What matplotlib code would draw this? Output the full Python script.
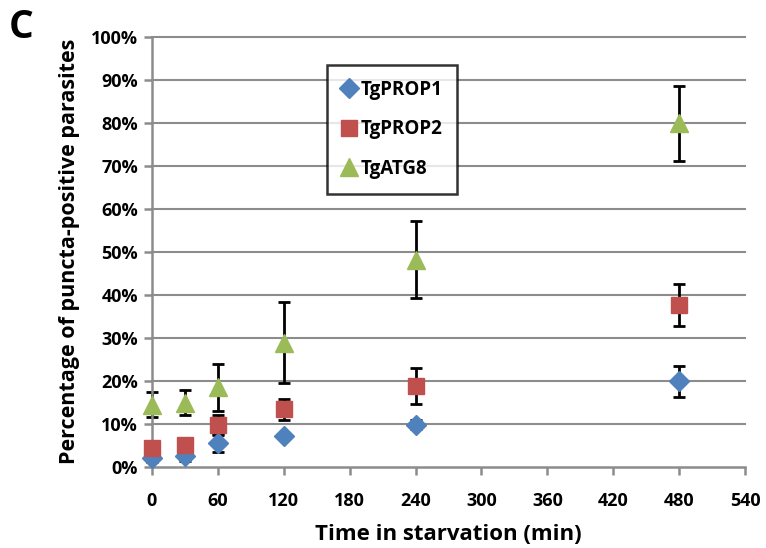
import matplotlib
matplotlib.use("Agg")
import matplotlib.pyplot as plt
from matplotlib.ticker import FuncFormatter, MultipleLocator

time_min = [0, 30, 60, 120, 240, 480]
prop1 = [2.1, 2.6, 5.5, 7.1, 9.8, 19.9]
prop1_err = [1.0, 1.3, 2.0, 0.6, 1.0, 3.6]
prop2 = [4.4, 5.1, 9.8, 13.4, 18.9, 37.6]
prop2_err = [0.8, 0.8, 2.2, 2.4, 4.2, 4.8]
atg8 = [14.4, 14.9, 18.5, 28.9, 48.2, 79.9]
atg8_err = [2.9, 2.9, 5.5, 9.5, 9.0, 8.7]
series_names = ["TgPROP1", "TgPROP2", "TgATG8"]
x_ticks = [0, 60, 120, 180, 240, 300, 360, 420, 480, 540]

plt.rcParams['font.family'] = ['Open Sans', 'DejaVu Sans']
plt.rcParams['font.weight'] = 'bold'

fig = plt.figure(figsize=(7.66, 5.48), dpi=100)
ax = fig.add_axes([0.198, 0.148, 0.775, 0.785])

grid_c = '#8c8c8c'
for v in range(10, 101, 10):
    ax.axhline(v, color=grid_c, lw=1.5, zorder=0)

styles = [
    (prop1, prop1_err, 'D', '#4F81BD', 10),
    (prop2, prop2_err, 's', '#C0504D', 12),
    (atg8, atg8_err, '^', '#9BBB59', 13),
]
handles = []
for (vals, errs, mk, col, ms), name in zip(styles, series_names):
    ax.errorbar(time_min, vals, yerr=errs, fmt='none', ecolor='black',
                elinewidth=2, capsize=4.5, capthick=2, zorder=2)
    h, = ax.plot(time_min, vals, linestyle='none', marker=mk, color=col,
                 markersize=ms, markeredgecolor=col, label=name, zorder=3)
    handles.append(h)

ax.set_xlim(0, 540)
ax.set_ylim(0, 100)
ax.set_xticks(x_ticks)
ax.yaxis.set_major_locator(MultipleLocator(10))
ax.yaxis.set_major_formatter(FuncFormatter(lambda v, p: f"{int(round(v))}%"))
for s in ['top', 'right']:
    ax.spines[s].set_visible(False)
for s in ['left', 'bottom']:
    ax.spines[s].set_color(grid_c)
    ax.spines[s].set_linewidth(1.8)
ax.tick_params(axis='both', direction='out', length=6, width=1.8, color=grid_c,
               labelsize=13, pad=4)
ax.tick_params(axis='x', pad=12)
for lab in ax.get_xticklabels() + ax.get_yticklabels():
    lab.set_fontweight('bold')
for art in ax.lines + ax.collections:
    art.set_clip_on(False)

ax.set_xlabel("Time in starvation (min)", fontsize=16, fontweight='bold', labelpad=10)
ax.set_ylabel("Percentage of puncta-positive parasites", fontsize=15.5, fontweight='bold', labelpad=8)

leg = ax.legend(handles=handles, loc='upper left', bbox_to_anchor=(0.295, 0.935),
                frameon=True, fancybox=False, edgecolor='black',
                handlelength=0.8, handletextpad=0.2, labelspacing=1.05,
                borderpad=0.8, borderaxespad=0,
                prop={'weight': 'bold', 'size': 13.5})
leg.get_frame().set_linewidth(1.8)
leg.set_zorder(5)

fig.text(0.012, 0.985, "C", fontsize=28, fontweight='bold', va='top', ha='left')

fig.savefig("out.png", dpi=100)
